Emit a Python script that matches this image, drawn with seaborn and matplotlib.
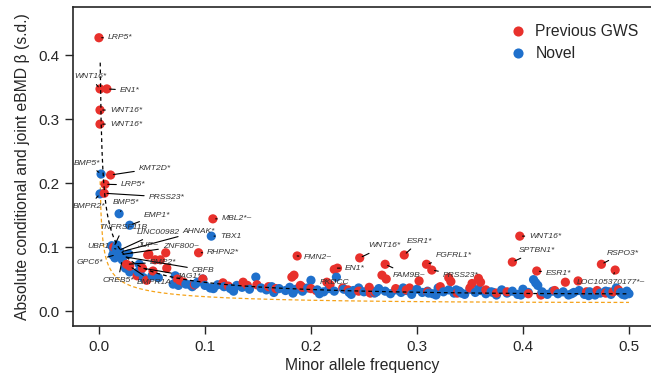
import numpy as np
import pandas as pd
import matplotlib
matplotlib.use("Agg")
import matplotlib.pyplot as plt
import seaborn as sns

# Novel loci (blue): minor allele frequency, |beta|
novel_maf = [0.002, 0.001, 0.019, 0.029, 0.018, 0.02, 0.106, 0.016, 0.028, 0.023, 0.224,
             0.012, 0.014, 0.013, 0.022, 0.017, 0.015, 0.025, 0.029, 0.039, 0.042, 0.05,
             0.037, 0.038, 0.056, 0.072, 0.07, 0.086, 0.091, 0.098,
             0.075, 0.082, 0.088, 0.093, 0.1, 0.105, 0.112, 0.118, 0.124, 0.13, 0.135,
             0.142, 0.148, 0.153, 0.158, 0.163, 0.17, 0.176, 0.18, 0.186, 0.192, 0.197,
             0.2, 0.206, 0.212, 0.217, 0.222, 0.231, 0.236, 0.24, 0.245, 0.25, 0.255,
             0.26, 0.264, 0.27, 0.275, 0.28, 0.285, 0.29, 0.295, 0.3, 0.305, 0.31,
             0.315, 0.32, 0.325, 0.33, 0.335, 0.34, 0.345, 0.35, 0.355, 0.36, 0.365,
             0.37, 0.375, 0.38, 0.385, 0.39, 0.395, 0.4, 0.405, 0.41, 0.414, 0.418,
             0.423, 0.428, 0.433, 0.438, 0.443, 0.448, 0.453, 0.458, 0.463, 0.468,
             0.473, 0.478, 0.483, 0.488, 0.492, 0.496, 0.498, 0.5,
             0.108, 0.127, 0.165, 0.183, 0.208, 0.238, 0.262, 0.287, 0.318, 0.342,
             0.358, 0.372, 0.398, 0.412, 0.446, 0.462, 0.481, 0.494, 0.337, 0.311]
novel_beta = [0.214, 0.183, 0.152, 0.134, 0.094, 0.092, 0.117, 0.097, 0.089, 0.085, 0.053,
              0.102, 0.095, 0.0875, 0.08, 0.103, 0.083, 0.067, 0.061, 0.0625, 0.052, 0.055,
              0.061, 0.073, 0.052, 0.055, 0.042, 0.041, 0.042, 0.05,
              0.04, 0.042, 0.038, 0.045, 0.04, 0.036, 0.041, 0.038, 0.035, 0.04, 0.037,
              0.034, 0.053, 0.036, 0.033, 0.038, 0.035, 0.032, 0.037, 0.034, 0.031, 0.036,
              0.048, 0.033, 0.03, 0.035, 0.031, 0.034, 0.029, 0.032, 0.036, 0.03, 0.033,
              0.028, 0.035, 0.031, 0.027, 0.033, 0.029, 0.032, 0.026, 0.034, 0.029, 0.031,
              0.027, 0.036, 0.03, 0.033, 0.028, 0.031, 0.026, 0.034, 0.029, 0.032, 0.027,
              0.03, 0.025, 0.033, 0.028, 0.031, 0.026, 0.034, 0.029, 0.049, 0.04, 0.03,
              0.026, 0.031, 0.027, 0.03, 0.025, 0.029, 0.032, 0.026, 0.03, 0.025,
              0.028, 0.031, 0.026, 0.036, 0.029, 0.025, 0.031, 0.027,
              0.035, 0.031, 0.029, 0.028, 0.027, 0.026, 0.03, 0.036, 0.025, 0.028,
              0.034, 0.029, 0.025, 0.044, 0.027, 0.024, 0.03, 0.026, 0.033, 0.028]

# Previously reported loci (red)
prev_maf = [0.0, 0.001, 0.0075, 0.001, 0.001, 0.011, 0.0057, 0.005, 0.014, 0.1075, 0.063,
            0.094, 0.187, 0.222, 0.225, 0.246, 0.288, 0.27, 0.309, 0.314, 0.397, 0.39,
            0.413, 0.474, 0.487,
            0.026, 0.029, 0.041, 0.047, 0.053, 0.058, 0.064, 0.045, 0.074, 0.076, 0.036,
            0.051, 0.046,
            0.08, 0.09, 0.098, 0.117, 0.122, 0.136, 0.14, 0.149, 0.16, 0.167, 0.182,
            0.184, 0.19, 0.192, 0.2, 0.205, 0.215, 0.23, 0.235, 0.245, 0.255, 0.26,
            0.267, 0.271, 0.256, 0.28, 0.29, 0.293, 0.302, 0.31, 0.322, 0.33, 0.332,
            0.338, 0.35, 0.358, 0.36, 0.365, 0.375, 0.385, 0.405, 0.417, 0.43, 0.44,
            0.452, 0.46, 0.47, 0.478, 0.485, 0.49, 0.218, 0.352]
prev_beta = [0.427, 0.347, 0.347, 0.314, 0.292, 0.2125, 0.198, 0.184, 0.1, 0.144, 0.091,
             0.091, 0.086, 0.065, 0.067, 0.083, 0.0875, 0.073, 0.073, 0.064, 0.117, 0.0765,
             0.0625, 0.073, 0.064,
             0.073, 0.07, 0.067, 0.089, 0.08, 0.08, 0.067, 0.048, 0.05, 0.048, 0.055,
             0.0625, 0.0875,
             0.045, 0.041, 0.05, 0.044, 0.039, 0.045, 0.04, 0.041, 0.038, 0.035, 0.053,
             0.056, 0.04, 0.037, 0.035, 0.032, 0.045, 0.036, 0.033, 0.031, 0.037, 0.03,
             0.056, 0.05, 0.028, 0.035, 0.033, 0.036, 0.047, 0.03, 0.038, 0.052, 0.046,
             0.028, 0.036, 0.051, 0.045, 0.033, 0.028, 0.03, 0.027, 0.025, 0.032, 0.045,
             0.047, 0.03, 0.032, 0.028, 0.03, 0.033, 0.041, 0.043]

# gene labels: text, point (maf, beta), text position (maf, beta), alignment
gene_names = ["LRP5*", "WNT16*", "EN1*", "WNT16*", "WNT16*", "BMP5*", "KMT2D*", "LRP5*",
              "BMPR2*", "PRSS23*", "BMP5*", "EMP1*", "TNFRSF11B", "LINC00982", "AHNAK*",
              "TBX1", "MBL2*~", "UBP1", "JUP~", "ZNF800~", "RHPN2*", "CBFB", "GPC6*",
              "BMP2*", "CREB5*", "BMPR1A", "JAG1*", "FMN2~", "EN1*", "PKDCC", "WNT16*",
              "ESR1*", "FAM9B~", "FGFRL1*", "PRSS23*", "WNT16*", "SPTBN1*", "ESR1*",
              "RSPO3*", "LOC105370177*~"]
gene_maf = [0.0, 0.001, 0.0075, 0.001, 0.001, 0.002, 0.011, 0.0057, 0.001, 0.005, 0.019,
            0.029, 0.014, 0.018, 0.02, 0.106, 0.1075, 0.016, 0.028, 0.02, 0.094, 0.023,
            0.016, 0.026, 0.022, 0.029, 0.041, 0.187, 0.225, 0.224, 0.246, 0.288, 0.27,
            0.309, 0.314, 0.397, 0.39, 0.413, 0.474, 0.487]
gene_beta = [0.427, 0.347, 0.347, 0.314, 0.292, 0.214, 0.2125, 0.198, 0.183, 0.184, 0.152,
             0.134, 0.1, 0.094, 0.092, 0.117, 0.144, 0.097, 0.089, 0.088, 0.091, 0.085,
             0.088, 0.073, 0.08, 0.07, 0.067, 0.086, 0.067, 0.053, 0.083, 0.0875, 0.073,
             0.073, 0.064, 0.117, 0.0765, 0.0625, 0.073, 0.064]
text_pos = [(0.0085, 0.427, "left"), (-0.0085, 0.366, "center"), (0.0198, 0.345, "left"),
            (0.0104, 0.314, "left"), (0.0104, 0.292, "left"), (-0.0113, 0.231, "center"),
            (0.0377, 0.223, "left"), (0.0208, 0.197, "left"), (-0.0094, 0.164, "center"),
            (0.047, 0.178, "left"), (0.0255, 0.169, "center"), (0.0425, 0.15, "left"),
            (0.0226, 0.13, "center"), (0.036, 0.123, "left"), (0.079, 0.125, "left"),
            (0.114, 0.117, "left"), (0.116, 0.144, "left"), (0.0104, 0.1015, "right"),
            (0.036, 0.1025, "left"), (0.0604, 0.1015, "left"), (0.102, 0.092, "left"),
            (0.0877, 0.064, "left"), (0.0038, 0.0765, "right"), (0.048, 0.0765, "left"),
            (0.018, 0.0484, "center"), (0.036, 0.044, "left"), (0.0726, 0.0547, "left"),
            (0.193, 0.084, "left"), (0.232, 0.067, "left"), (0.2226, 0.044, "center"),
            (0.254, 0.1016, "left"), (0.29, 0.109, "left"), (0.277, 0.056, "left"),
            (0.318, 0.086, "left"), (0.3245, 0.056, "left"), (0.406, 0.117, "left"),
            (0.396, 0.094, "left"), (0.4217, 0.059, "left"), (0.479, 0.0906, "left"),
            (0.451, 0.045, "left")]

# fitted detection curve (black) and power threshold (orange), beta ~ a / sqrt(2p(1-p))
fit_coef = 0.019
thr_coef = 0.0095

df = pd.concat([
    pd.DataFrame({"maf": novel_maf, "beta": novel_beta, "group": "Novel"}),
    pd.DataFrame({"maf": prev_maf, "beta": prev_beta, "group": "Previous GWS"}),
])
# interleave so neither colour sits entirely on top
df = df.iloc[np.argsort(df["maf"].values, kind="stable")]

sns.set_style("ticks")
plt.rcParams["font.family"] = ["Liberation Sans", "DejaVu Sans"]

fig = plt.figure(figsize=(6.51, 3.81), dpi=100)
ax = fig.add_axes([0.1121, 0.1444, 0.8879, 0.8372])

pal = {"Previous GWS": "#e8312c", "Novel": "#1f70cc"}
sns.scatterplot(data=df, x="maf", y="beta", hue="group", palette=pal,
                hue_order=["Previous GWS", "Novel"], s=44, linewidth=0,
                ax=ax, zorder=3)

p = np.linspace(0.0012, 0.5, 600)
ax.plot(p, fit_coef / np.sqrt(2 * p * (1 - p)), color="black", lw=0.9,
        dashes=(3, 2.5), zorder=4)
p2 = np.linspace(0.001, 0.5, 600)
ax.plot(p2, thr_coef / np.sqrt(2 * p2 * (1 - p2)), color="#f5a31a", lw=0.9,
        dashes=(3, 2), zorder=2)

for name, gx, gy, (tx, ty, ha) in zip(gene_names, gene_maf, gene_beta, text_pos):
    ax.annotate(name, xy=(gx, gy), xytext=(tx, ty), ha=ha, va="center",
                fontsize=6.1, fontstyle="italic", color="#333333", zorder=5,
                arrowprops=dict(arrowstyle="-", color="black", lw=0.8,
                                shrinkA=1, shrinkB=2))

ax.set_xlim(-0.0245, 0.5208)
ax.set_ylim(-0.0234, 0.475)
ax.set_xticks([0.0, 0.1, 0.2, 0.3, 0.4, 0.5])
ax.set_yticks([0.0, 0.1, 0.2, 0.3, 0.4])
ax.set_xticklabels(["0.0", "0.1", "0.2", "0.3", "0.4", "0.5"])
ax.set_yticklabels(["0.0", "0.1", "0.2", "0.3", "0.4"])
ax.tick_params(labelsize=11, length=6, width=1, direction="out", pad=4)
ax.set_xlabel("Minor allele frequency", fontsize=11.3, labelpad=3)
ax.set_ylabel("Absolute conditional and joint eBMD β (s.d.)", fontsize=11.3, labelpad=6)
for side in ["left", "bottom", "top"]:
    ax.spines[side].set_linewidth(1.2)
ax.spines["right"].set_visible(False)

leg = ax.legend(loc="upper right", bbox_to_anchor=(0.995, 0.975), frameon=False,
                fontsize=11.3, handletextpad=0.1, markerscale=1.1,
                labelspacing=0.45, borderaxespad=0.2)

fig.savefig("out.png", dpi=100)
